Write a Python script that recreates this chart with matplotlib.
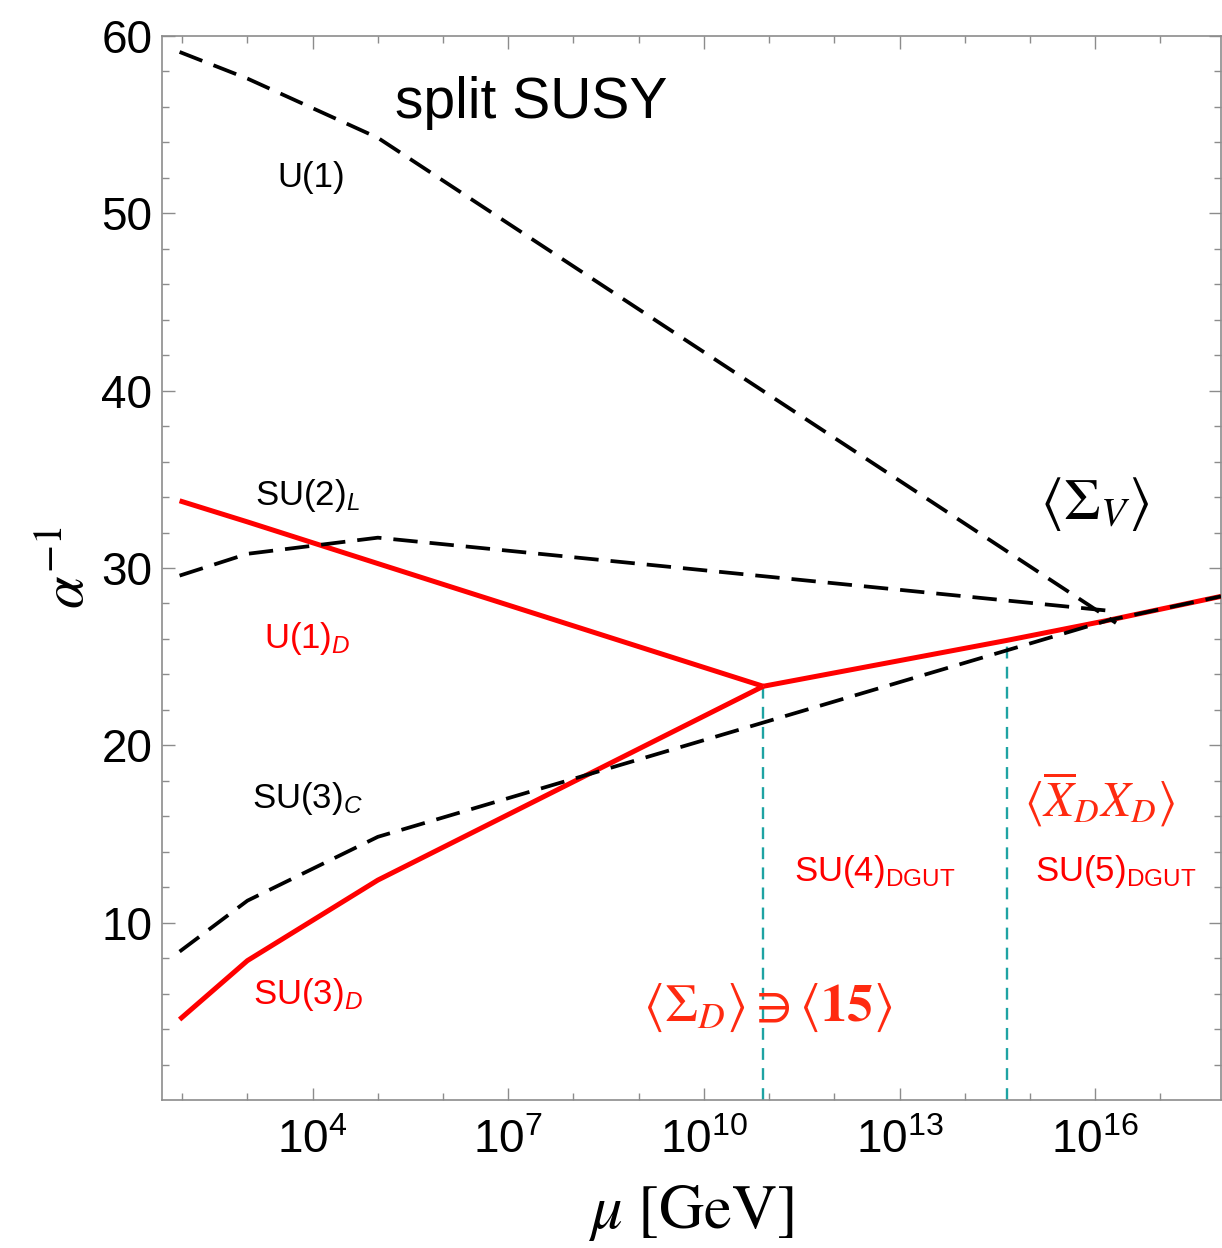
import matplotlib
matplotlib.use("Agg")
import matplotlib.pyplot as plt
import numpy as np
from matplotlib.ticker import FixedLocator, FuncFormatter

plt.rcParams['font.family'] = ['Liberation Sans', 'DejaVu Sans']
plt.rcParams['mathtext.fontset'] = 'custom'
plt.rcParams['mathtext.rm'] = 'Liberation Sans'
plt.rcParams['mathtext.it'] = 'Liberation Sans:italic'
plt.rcParams['mathtext.bf'] = 'Liberation Sans:bold'

# ---- data (log10 of mu in GeV, alpha^-1) ----
u1_logmu = [1.96, 3.0, 5.0, 16.32]
u1_inv = [59.1, 57.6, 54.26, 26.9]

su2_logmu = [1.96, 3.0, 5.0, 16.32]
su2_inv = [29.57, 30.8, 31.71, 27.55]

su3c_logmu = [1.96, 3.0, 5.0, 16.2, 17.93]
su3c_inv = [8.37, 11.24, 14.84, 27.05, 28.4]

u1d_logmu = [1.96, 3.0, 5.0, 10.91]
u1d_inv = [33.79, 32.6, 30.25, 23.33]

su3d_logmu = [1.96, 3.0, 5.0, 10.91]
su3d_inv = [4.54, 7.86, 12.4, 23.33]

dgut_logmu = [10.91, 14.65, 16.2, 17.93]
dgut_inv = [23.33, 25.92, 27.05, 28.4]

vev_logmu = [10.91, 14.65]
vev_inv = [23.33, 25.92]

xtick_exps = [4, 7, 10, 13, 16]
yticks = [10, 20, 30, 40, 50, 60]

W, H = 1222, 1248
fig = plt.figure(figsize=(W / 100, H / 100), dpi=100)
ax = fig.add_axes([162 / W, 1 - 1100 / H, (1221 - 162) / W, (1100 - 36) / H])

def p(logs):
    return [10 ** v for v in logs]

red = '#ff0000'
lw_b = 2.7
dash_b = (6.5, 3.2)

# red dark-sector lines
ax.plot(p(u1d_logmu), u1d_inv, color=red, lw=3.6, solid_capstyle='butt', zorder=3)
ax.plot(p(su3d_logmu), su3d_inv, color=red, lw=3.6, solid_capstyle='butt', zorder=3)
ax.plot(p(dgut_logmu), dgut_inv, color=red, lw=3.6, solid_capstyle='butt', zorder=3)

# black SM lines (dashed)
for lx, ly in [(u1_logmu, u1_inv), (su2_logmu, su2_inv), (su3c_logmu, su3c_inv)]:
    ax.plot(p(lx), ly, color='black', lw=lw_b, dashes=dash_b, zorder=4)

# cyan vertical markers
for lx, ly in zip(vev_logmu, vev_inv):
    ax.plot([10 ** lx, 10 ** lx], [0, ly], color='#1ea3a3', lw=1.7, dashes=(5, 3.5), zorder=2)

ax.set_xscale('log')
ax.set_xlim(10 ** 1.69, 10 ** 17.93)
ax.set_ylim(0, 60)

ax.xaxis.set_major_locator(FixedLocator([10.0 ** e for e in xtick_exps]))
ax.xaxis.set_minor_locator(FixedLocator([10.0 ** e for e in range(2, 18)]))
ax.xaxis.set_major_formatter(FuncFormatter(lambda v, pos: r'$\mathregular{10^{%d}}$' % round(np.log10(v))))
ax.xaxis.set_minor_formatter(FuncFormatter(lambda v, pos: ''))
ax.set_yticks(yticks)
ax.set_yticks(np.arange(2, 60, 2), minor=True)

for s in ax.spines.values():
    s.set_color('#8c8c8c')
    s.set_linewidth(1.2)
ax.tick_params(which='both', direction='in', top=True, right=True, color='#8c8c8c', width=1.0)
ax.tick_params(which='major', length=9)
ax.tick_params(which='minor', length=5)
ax.tick_params(axis='y', labelsize=33, pad=7)
ax.tick_params(axis='x', labelsize=33, pad=14)

ax.set_xlabel(r'$\mu\ [\mathrm{GeV}]$', fontsize=45, math_fontfamily='stix', labelpad=14)
ax.set_ylabel(r'$\alpha^{-1}$', fontsize=42, math_fontfamily='stix', labelpad=4)

def X(lg):
    return 10 ** lg

ax.text(X(5.27), 56.2, 'split SUSY', fontsize=41, ha='left', va='center')
ax.text(X(3.98), 52.0, 'U(1)', fontsize=25, ha='center', va='center')
ax.text(X(3.92), 34.1, r'SU(2)$_{L}$', fontsize=25, ha='center', va='center')
ax.text(X(3.92), 26.0, r'U(1)$_{D}$', fontsize=25, ha='center', va='center', color=red)
ax.text(X(3.92), 17.0, r'SU(3)$_{C}$', fontsize=25, ha='center', va='center')
ax.text(X(3.92), 5.95, r'SU(3)$_{D}$', fontsize=25, ha='center', va='center', color=red)
ax.text(X(12.62), 12.9, r'SU(4)$_{\mathrm{DGUT}}$', fontsize=25, ha='center', va='center', color=red)
ax.text(X(16.31), 12.9, r'SU(5)$_{\mathrm{DGUT}}$', fontsize=25, ha='center', va='center', color=red)

ax.text(X(15.99), 33.6, r'$\langle\Sigma_V\rangle$', fontsize=42, ha='center', va='center',
        math_fontfamily='stix')
ax.text(X(16.07), 17.0, r'$\langle\overline{X}_D X_D\rangle$', fontsize=35, ha='center', va='center',
        math_fontfamily='stix', color='#ff2a10')
ax.text(X(10.97), 5.2, r'$\langle\Sigma_D\rangle \ni \langle\mathbf{15}\rangle$', fontsize=38,
        ha='center', va='center', math_fontfamily='stix', color='#ff2a10')

fig.savefig('out.png', dpi=100)
